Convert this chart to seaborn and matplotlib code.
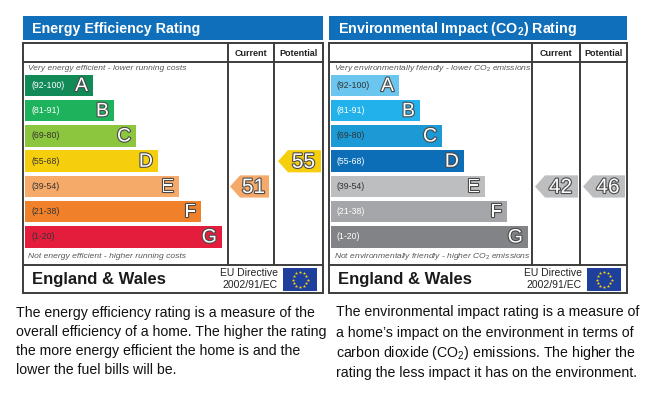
import numpy as np
import matplotlib.pyplot as plt
import seaborn as sns
from matplotlib.patches import Rectangle, Polygon
import matplotlib.patheffects as pe

sns.set_theme(style="white")
plt.rcParams["font.family"] = ["Liberation Sans", "DejaVu Sans"]
plt.rcParams["mathtext.fontset"] = "custom"
plt.rcParams["mathtext.rm"] = "Liberation Sans"
plt.rcParams["mathtext.bf"] = "Liberation Sans:bold"
plt.rcParams["mathtext.it"] = "Liberation Sans:italic"

# data
bands = ["A", "B", "C", "D", "E", "F", "G"]
ranges = ["(92-100)", "(81-91)", "(69-80)", "(55-68)", "(39-54)", "(21-38)", "(1-20)"]
band_min = [92, 81, 69, 55, 39, 21, 1]
band_len = [68, 89, 111, 133, 154, 176, 197]

ee_colors = ["#118a58", "#1db35c", "#8cc63f", "#f6cf0c", "#f6aa6a", "#f0812a", "#e41d3d"]
ee_range_col = ["white", "white", "#333333", "#333333", "#333333", "#333333", "#333333"]
ei_colors = ["#6ac6ee", "#23b1ec", "#1c9ad6", "#0b6eb6", "#bcbec0", "#a4a6a9", "#818386"]
ei_range_col = ["#333333", "white", "#333333", "white", "#333333", "white", "white"]

ee_current, ee_potential = 51, 55
ei_current, ei_potential = 42, 46

ee_text = ["The energy efficiency rating is a measure of the",
           "overall efficiency of a home. The higher the rating",
           "the more energy efficient the home is and the",
           "lower the fuel bills will be."]
ei_text = ["The environmental impact rating is a measure of",
           "a home\u2019s impact on the environment in terms of",
           "carbon dioxide (CO$_2$) emissions. The higher the",
           "rating the less impact it has on the environment."]

W, H = 656, 403
fig = plt.figure(figsize=(W / 100, H / 100), dpi=100)
fig.patch.set_facecolor("white")
bg = fig.add_axes([0, 0, 1, 1])
bg.set_xlim(0, W)
bg.set_ylim(H, 0)
bg.axis("off")

LINE = "#3c3c3c"
BLUE = "#0f6fba"
outline = [pe.withStroke(linewidth=1.6, foreground="#4a4a4a")]


def band_of(v):
    for i, lo in enumerate(band_min):
        if v >= lo:
            return i
    return len(band_min) - 1


def panel(x0, x1, c1, c2, bx0, title, top_note, bot_note, colors, rcols,
          current, potential, cur_span, pot_span):
    # title bar
    bg.add_patch(Rectangle((x0, 16), x1 - x0, 24, color=BLUE, lw=0))
    bg.text(x0 + 9, 28.5, title, color="white", fontsize=10.3, fontweight="bold",
            va="center", ha="left")
    # table frame
    bg.add_patch(Rectangle((x0, 43), x1 - x0, 250, fill=False, ec=LINE, lw=1.4))
    bg.plot([x0, x1], [62, 62], color=LINE, lw=1.4)
    bg.plot([x0, x1], [265, 265], color=LINE, lw=1.4)
    for cx in (c1, c2):
        bg.plot([cx, cx], [43, 265], color=LINE, lw=1.4)
    bg.text((c1 + c2) / 2, 53, "Current", fontsize=6.5, fontweight="bold",
            ha="center", va="center", color="#222222")
    bg.text((c2 + x1) / 2, 53, "Potential", fontsize=6.5, fontweight="bold",
            ha="center", va="center", color="#222222")
    bg.text(x0 + 5, 69, top_note, fontsize=6.1, style="italic", color="#555555",
            ha="left", va="center")
    bg.text(x0 + 5, 257, bot_note, fontsize=6.1, style="italic", color="#555555",
            ha="left", va="center")
    # footer
    bg.text(x0 + 9, 279.5, "England & Wales", fontsize=12, fontweight="bold",
            ha="left", va="center", color="#1a1a1a")
    fx = x1 - 40
    bg.text(fx - 5, 273, "EU Directive", fontsize=7.5, ha="right", va="center",
            color="#222222")
    bg.text(fx - 5, 285.5, "2002/91/EC", fontsize=7.5, ha="right", va="center",
            color="#222222")
    bg.add_patch(Rectangle((fx, 268), 34, 23, color="#1f3f9c", lw=0))
    ang = np.linspace(0, 2 * np.pi, 13)[:-1]
    bg.scatter(fx + 17 + 7.5 * np.cos(ang), 279.5 + 7.5 * np.sin(ang), marker="*",
               s=6, color="#ffdd00", lw=0)

    # rating bars
    ax = fig.add_axes([bx0 / W, 1 - 249.6 / H, (x1 - bx0) / W, 176.75 / H])
    sns.barplot(x=band_len, y=bands, hue=bands, palette=colors, legend=False,
                orient="h", width=0.85, saturation=1, linewidth=0, ax=ax)
    ax.set_xlim(0, x1 - bx0)
    ax.set_ylim(6.5, -0.5)
    ax.axis("off")
    for i, (b, r) in enumerate(zip(bands, ranges)):
        ax.text(6, i, r, fontsize=6.3, color=rcols[i], ha="left", va="center")
        ax.text(band_len[i] - 5, i + 0.04, b, fontsize=14, color="white",
                ha="right", va="center", path_effects=outline)

    # current / potential arrows
    for val, (a0, a1) in ((current, cur_span), (potential, pot_span)):
        k = band_of(val)
        h = 0.44
        ax.add_patch(Polygon([[a0, k], [a0 + 10, k - h], [a1, k - h], [a1, k + h],
                              [a0 + 10, k + h]], closed=True, color=colors[k], lw=0))
        ax.text((a0 + 10 + a1) / 2 - 1, k + 0.04, str(val), fontsize=15,
                color="white", ha="center", va="center", path_effects=outline)
    return ax


panel(23, 323, 228, 274, 25, "Energy Efficiency Rating",
      "Very energy efficient - lower running costs",
      "Not energy efficient - higher running costs",
      ee_colors, ee_range_col, ee_current, ee_potential, (205, 244), (253, 296))

panel(329, 627, 532, 580, 331, r"Environmental Impact (CO$_\mathbf{2}$) Rating",
      r"Very environmentally friendly - lower CO$_2$ emissions",
      r"Not environmentally friendly - higher CO$_2$ emissions",
      ei_colors, ei_range_col, ei_current, ei_potential, (204, 247), (252, 294))

# explanatory paragraphs
for ly, line in zip([313, 332, 351, 370], ee_text):
    bg.text(16, ly, line, fontsize=10.2, ha="left", va="center", color="#111111")
for ly, line in zip([312, 333, 353, 373], ei_text):
    bg.text(336, ly, line, fontsize=10.2, ha="left", va="center", color="#111111")

fig.savefig("out.png", dpi=100, facecolor="white")
